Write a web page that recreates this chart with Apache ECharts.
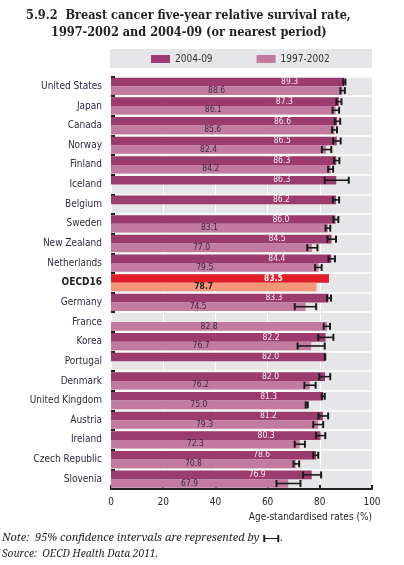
<!DOCTYPE html>
<html>
<head>
<meta charset="utf-8">
<script src="https://cdn.jsdelivr.net/npm/echarts@6/dist/echarts.min.js"></script>
<style>
html,body{margin:0;padding:0;background:#fff;}
#main{width:404px;height:565px;}
</style>
</head>
<body>
<div id="main"></div>
<script>
const categories = ['United States','Japan','Canada','Norway','Finland','Iceland','Belgium','Sweden','New Zealand','Netherlands','OECD16','Germany','France','Korea','Portugal','Denmark','United Kingdom','Austria','Ireland','Czech Republic','Slovenia'];
const v2004 = [89.3,87.3,86.6,86.5,86.3,86.3,86.2,86.0,84.5,84.4,83.5,83.3,null,82.2,82.0,82.0,81.3,81.2,80.3,78.6,76.9];
const v1997 = [88.6,86.1,85.6,82.4,84.2,null,null,83.1,77.0,79.5,78.7,74.5,82.8,76.7,null,76.2,75.0,79.3,72.3,70.8,67.9];
const lo2004 = [89.0,86.4,85.7,85.1,85.4,81.9,85.0,85.2,82.9,83.3,null,82.8,null,79.4,81.9,79.8,80.8,79.5,78.6,77.5,73.6];
const hi2004 = [89.8,88.3,87.8,88.0,87.5,91.1,87.4,87.1,86.2,85.8,null,84.3,null,85.2,82.1,84.0,81.9,83.2,82.1,79.4,80.5];
const lo1997 = [87.9,84.9,84.7,80.8,83.2,null,null,82.2,75.2,78.2,null,70.4,81.5,71.5,null,74.1,74.6,77.5,70.4,69.9,63.4];
const hi1997 = [89.6,87.4,86.6,84.4,85.1,null,null,84.0,79.1,80.7,null,78.6,83.9,81.9,null,78.4,75.4,81.3,74.3,72.1,72.6];
const xTicks = [0,20,40,60,80,100];
const seriesNames = ['2004-09','1997-2002'];
const highlight = 'OECD16';

const FONT = "'DejaVu Sans Condensed', sans-serif";
const TFONT = "bold 12.6px 'DejaVu Serif Condensed', serif";
const NFONT = "italic 11px 'Noto Serif', serif";
const SFONT = "italic 10.2px 'Noto Serif', serif";
const C2004 = '#9b3b6e', C1997 = '#c27aa0', CH2004 = '#e01e28', CH1997 = '#f4967a';
const BW = 8.6;

const d2004 = v2004.map((v,i)=>{
  if (categories[i]===highlight) return {value:v,itemStyle:{color:CH2004},label:{fontWeight:'bold',color:'#fff'}};
  return v;
});
const d1997 = v1997.map((v,i)=>{
  if (categories[i]===highlight) return {value:v,itemStyle:{color:CH1997},label:{fontWeight:'bold',color:'#222'}};
  return v;
});

function errData(lo,hi){
  const out=[];
  lo.forEach((l,i)=>{ if(l!=null && hi[i]!=null) out.push([l,hi[i],i]); });
  return out;
}
function errRender(offset){
  return function(params, api){
    const a = api.coord([api.value(0), api.value(2)]);
    const b = api.coord([api.value(1), api.value(2)]);
    const y = a[1] + offset;
    const h = 3.5;
    return {type:'group', children:[
      {type:'line', shape:{x1:a[0],y1:y,x2:b[0],y2:y}, style:{stroke:'#1a1a1a', lineWidth:1.6}},
      {type:'line', shape:{x1:a[0],y1:y-h,x2:a[0],y2:y+h}, style:{stroke:'#1a1a1a',lineWidth:2}},
      {type:'line', shape:{x1:b[0],y1:y-h,x2:b[0],y2:y+h}, style:{stroke:'#1a1a1a',lineWidth:2}}
    ]};
  };
}

const mctx = document.createElement('canvas').getContext('2d');
mctx.font = NFONT;
const noteText = 'Note:  95% confidence intervals are represented by';
const noteW = mctx.measureText(noteText).width;
const sx = 2 + noteW + 5, sy = 538.5;

const chart = echarts.init(document.getElementById('main'), null, {renderer:'canvas'});
chart.setOption({
  animation:false,
  backgroundColor:'#fff',
  graphic:[
    {type:'text', left:26, top:9, style:{text:'5.9.2  Breast cancer five-year relative survival rate,', font:TFONT, fill:'#231f20'}},
    {type:'text', left:51, top:26, style:{text:'1997-2002 and 2004-09 (or nearest period)', font:TFONT, fill:'#231f20'}},
    {type:'rect', shape:{x:110, y:49, width:262, height:19}, style:{fill:'#e6e6e8'}, z:-1},
    {type:'text', right:32, top:512, style:{text:'Age-standardised rates (%)', font:"10px "+FONT, fill:'#231f20'}},
    {type:'text', left:2, top:532, style:{text:noteText, font:NFONT, fill:'#231f20'}},
    {type:'line', shape:{x1:sx, y1:sy, x2:sx+14, y2:sy}, style:{stroke:'#231f20', lineWidth:1}},
    {type:'line', shape:{x1:sx, y1:sy-3.5, x2:sx, y2:sy+3.5}, style:{stroke:'#231f20', lineWidth:2}},
    {type:'line', shape:{x1:sx+14, y1:sy-3.5, x2:sx+14, y2:sy+3.5}, style:{stroke:'#231f20', lineWidth:2}},
    {type:'text', left:sx+16, top:532, style:{text:'.', font:NFONT, fill:'#231f20'}},
    {type:'text', left:2, top:549, style:{text:'Source:  OECD Health Data 2011.', font:SFONT, fill:'#231f20'}}
  ],
  legend:{
    data:seriesNames, left:151, top:54, padding:0, itemWidth:19, itemHeight:8, itemGap:44,
    textStyle:{fontFamily:FONT, fontSize:10, color:'#333'}, icon:'rect'
  },
  grid:{left:111, right:32, top:76.5, bottom:76, show:true, backgroundColor:'#e6e6e8', borderWidth:0},
  xAxis:{
    type:'value', min:0, max:100, interval:20,
    axisLine:{show:true, lineStyle:{color:'#231f20', width:2}},
    axisTick:{show:true, inside:true, length:4, lineStyle:{color:'#231f20', width:2}},
    axisLabel:{fontFamily:FONT, fontSize:10, color:'#231f20', margin:8, formatter:v=>xTicks.includes(v)?String(v):''},
    splitLine:{show:true, lineStyle:{color:'#ffffff', width:1}}
  },
  yAxis:{
    type:'category', data:categories, inverse:true,
    axisLine:{show:false},
    axisTick:{show:true, inside:true, length:4, lineStyle:{color:'#231f20', width:2}},
    axisLabel:{fontFamily:FONT, fontSize:10, color:'#2b2b45', margin:9,
      formatter:v=> v===highlight ? '{b|'+v+'}' : v,
      rich:{b:{fontFamily:FONT, fontSize:10, fontWeight:'bold', color:'#231f20'}}},
    splitLine:{show:true, lineStyle:{color:'#ffffff', width:1.5}}
  },
  series:[
    {name:seriesNames[0], type:'bar', data:d2004, barWidth:BW, barGap:'0%', itemStyle:{color:C2004},
     label:{show:true, position:'insideRight', offset:[-41,0], fontFamily:FONT, fontSize:8.5, color:'#f3e8f0', formatter:p=>p.value.toFixed(1)}},
    {name:seriesNames[1], type:'bar', data:d1997, barWidth:BW, barGap:'0%', itemStyle:{color:C1997},
     label:{show:true, position:'inside', offset:[-10,0], fontFamily:FONT, fontSize:8.5, color:'#3d2a40', formatter:p=>p.value.toFixed(1)}},
    {type:'custom', data:errData(lo2004,hi2004), encode:{x:[0,1], y:2}, renderItem:errRender(-BW/2), z:5, silent:true},
    {type:'custom', data:errData(lo1997,hi1997), encode:{x:[0,1], y:2}, renderItem:errRender(BW/2), z:5, silent:true}
  ]
});
</script>
</body>
</html>
